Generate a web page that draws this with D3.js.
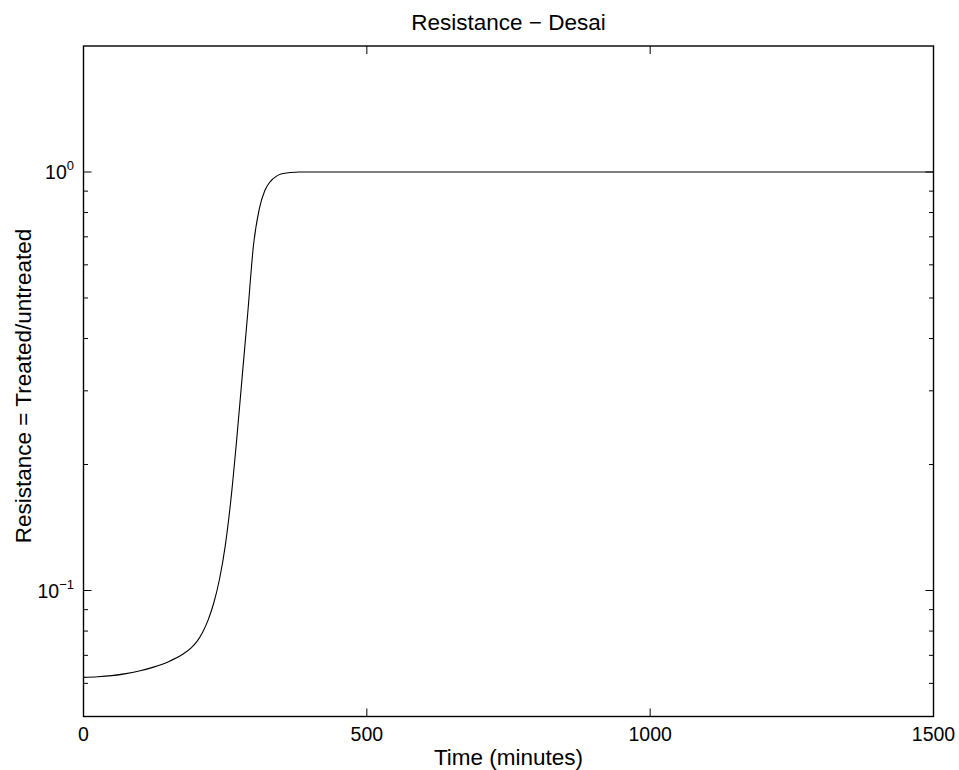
<!DOCTYPE html>
<html>
<head>
<meta charset="utf-8">
<script src="https://cdn.jsdelivr.net/npm/d3@7"></script>
<style>
  html, body { margin: 0; padding: 0; background: #fff; }
  svg { display: block; }
  text { font-family: "Liberation Sans", Arial, Helvetica, sans-serif; fill: #000; }
</style>
</head>
<body>
<svg id="chart" width="959" height="770"></svg>
<script>
// ---- data ----
const timeMinutes = [0, 25, 50, 75, 100, 125, 150, 175, 190, 200, 210, 220, 230, 240, 250, 260, 270, 280, 290, 300, 310, 320, 330, 340, 350, 365, 380, 400, 500, 750, 1000, 1250, 1500];
const resistance  = [0.0620, 0.0622, 0.0626, 0.0633, 0.0643, 0.0657, 0.0676, 0.0704, 0.0729, 0.0755, 0.0794, 0.0851, 0.0935, 0.1064, 0.1275, 0.1643, 0.2268, 0.324, 0.463, 0.669, 0.814, 0.903, 0.950, 0.976, 0.990, 0.997, 1.0, 1.0, 1.0, 1.0, 1.0, 1.0, 1.0];
const xTicks = [0, 500, 1000, 1500];
const yMajorTicks = [0.1, 1];
const yMajorExponents = ["\u22121", "0"];
const yMinorTicks = [0.06, 0.07, 0.08, 0.09, 0.2, 0.3, 0.4, 0.5, 0.6, 0.7, 0.8, 0.9];
const titleText = "Resistance \u2212 Desai";
const xLabelText = "Time (minutes)";
const yLabelText = "Resistance = Treated/untreated";

// ---- layout ----
const pLeft = 83.5, pRight = 933.5, pTop = 46, pBottom = 716.5;
const svg = d3.select("#chart");

const x = d3.scaleLinear().domain([0, 1500]).range([pLeft, pRight]);
const y = d3.scaleLog().domain([0.05, 2]).range([pBottom, pTop]);

const data = timeMinutes.map((t, i) => ({ t, v: resistance[i] }));

// curve
svg.append("path")
  .datum(data)
  .attr("fill", "none")
  .attr("stroke", "#000")
  .attr("stroke-width", 1.1)
  .attr("d", d3.line().x(d => x(d.t)).y(d => y(d.v)).curve(d3.curveMonotoneX));

const majorLen = 8, minorLen = 4.5;
const g = svg.append("g").attr("stroke", "#000").attr("stroke-width", 1);

// x ticks (bottom & top, inward)
xTicks.forEach(t => {
  g.append("line").attr("x1", x(t)).attr("x2", x(t)).attr("y1", pBottom).attr("y2", pBottom - majorLen);
  g.append("line").attr("x1", x(t)).attr("x2", x(t)).attr("y1", pTop).attr("y2", pTop + majorLen);
});
// y major ticks (left & right)
yMajorTicks.forEach(v => {
  g.append("line").attr("x1", pLeft).attr("x2", pLeft + majorLen).attr("y1", y(v)).attr("y2", y(v));
  g.append("line").attr("x1", pRight).attr("x2", pRight - majorLen).attr("y1", y(v)).attr("y2", y(v));
});
// y minor ticks
yMinorTicks.forEach(v => {
  g.append("line").attr("x1", pLeft).attr("x2", pLeft + minorLen).attr("y1", y(v)).attr("y2", y(v));
  g.append("line").attr("x1", pRight).attr("x2", pRight - minorLen).attr("y1", y(v)).attr("y2", y(v));
});

// box
svg.append("rect")
  .attr("x", pLeft).attr("y", pTop)
  .attr("width", pRight - pLeft).attr("height", pBottom - pTop)
  .attr("fill", "none").attr("stroke", "#000").attr("stroke-width", 1.4);

// x tick labels
svg.append("g").selectAll("text").data(xTicks).join("text")
  .attr("x", d => x(d)).attr("y", pBottom + 24.5)
  .attr("text-anchor", "middle")
  .attr("font-size", 19.5)
  .text(d => d);

// y tick labels (10^n)
yMajorTicks.forEach((v, i) => {
  const t = svg.append("text")
    .attr("x", 74).attr("y", y(v) + 7)
    .attr("text-anchor", "end")
    .attr("font-size", 19.5);
  t.append("tspan").text("10");
  t.append("tspan").attr("dy", -9).attr("font-size", 13).text(yMajorExponents[i]);
});

// title
svg.append("text")
  .attr("x", (pLeft + pRight) / 2).attr("y", 30)
  .attr("text-anchor", "middle")
  .attr("font-size", 22.5)
  .text(titleText);

// x label
svg.append("text")
  .attr("x", (pLeft + pRight) / 2).attr("y", 765)
  .attr("text-anchor", "middle")
  .attr("font-size", 22.5)
  .text(xLabelText);

// y label
svg.append("text")
  .attr("transform", `translate(31,${386}) rotate(-90)`)
  .attr("text-anchor", "middle")
  .attr("font-size", 22.5)
  .text(yLabelText);
</script>
</body>
</html>
